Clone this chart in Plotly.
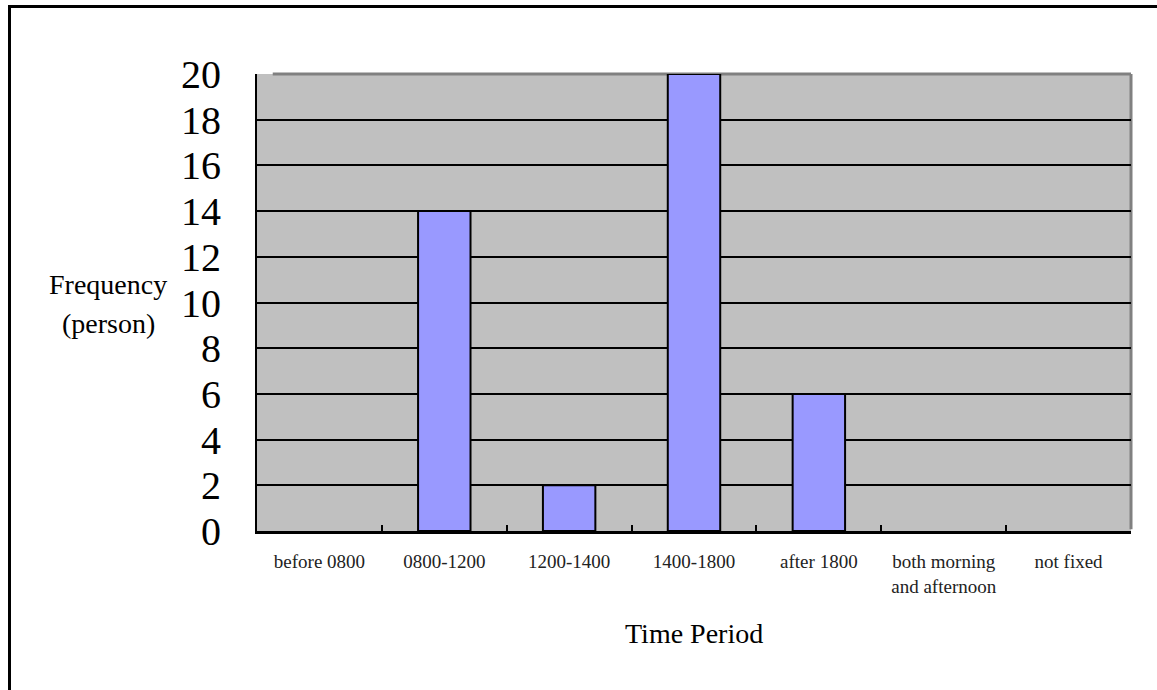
import plotly.graph_objects as go

categories = ["before 0800", "0800-1200", "1200-1400", "1400-1800", "after 1800",
              "both morning<br>and afternoon", "not fixed"]
frequency = [0, 14, 2, 20, 6, 0, 0]
y_ticks = list(range(0, 21, 2))

W, H = 1157, 690
L, R, T, B = 257, 26, 74, 159
pw, ph = W - L - R, H - T - B

def px_x(px):
    return (px - L) / pw

def px_y(py):
    return (H - B - py) / ph

serif = "Liberation Serif, Times New Roman, serif"

fig = go.Figure(go.Bar(
    x=categories, y=frequency,
    marker=dict(color="#9999FF",
                line=dict(color="black", width=[2 if v > 0 else 0 for v in frequency])),
    width=0.42,
))

fig.update_layout(
    width=W, height=H,
    margin=dict(l=L, r=R, t=T, b=B),
    paper_bgcolor="white",
    plot_bgcolor="#C0C0C0",
    showlegend=False,
    font=dict(family=serif, color="black"),
    xaxis=dict(
        type="category",
        range=[-0.5, 6.5],
        showline=True, linecolor="black", linewidth=3,
        ticks="inside", ticklen=6, tickwidth=2, tickcolor="black",
        tickson="boundaries",
        showgrid=False,
        tickfont=dict(family=serif, size=19, color="#222"),
        ticklabelstandoff=11,
    ),
    yaxis=dict(
        range=[0, 20],
        tickvals=y_ticks,
        showline=True, linecolor="black", linewidth=2,
        ticks="inside", ticklen=15, tickwidth=2, tickcolor="black",
        showgrid=True, gridcolor="black", gridwidth=2,
        zeroline=False,
        tickfont=dict(family=serif, size=40, color="black"),
        ticklabelstandoff=26,
    ),
    shapes=[
        dict(type="line", xref="paper", yref="paper", x0=0.018, x1=1, y0=1, y1=1,
             line=dict(color="#808080", width=3), layer="between"),
        dict(type="line", xref="paper", yref="paper", x0=1, x1=1, y0=0.004, y1=1,
             line=dict(color="#808080", width=3), layer="between"),
        dict(type="rect", xref="paper", yref="paper",
             x0=px_x(9.5), x1=px_x(1170), y0=px_y(6.5), y1=px_y(700),
             line=dict(color="black", width=3)),
    ],
    annotations=[
        dict(text="Frequency", xref="paper", yref="paper", x=px_x(108), y=px_y(284),
             showarrow=False, font=dict(family=serif, size=28, color="black"),
             xanchor="center", yanchor="middle"),
        dict(text="(person)", xref="paper", yref="paper", x=px_x(108), y=px_y(323),
             showarrow=False, font=dict(family=serif, size=28, color="black"),
             xanchor="center", yanchor="middle"),
        dict(text="Time Period", xref="paper", yref="paper", x=px_x(694), y=px_y(633),
             showarrow=False, font=dict(family=serif, size=28, color="black"),
             xanchor="center", yanchor="middle"),
    ],
)

fig.write_html("out.html")
